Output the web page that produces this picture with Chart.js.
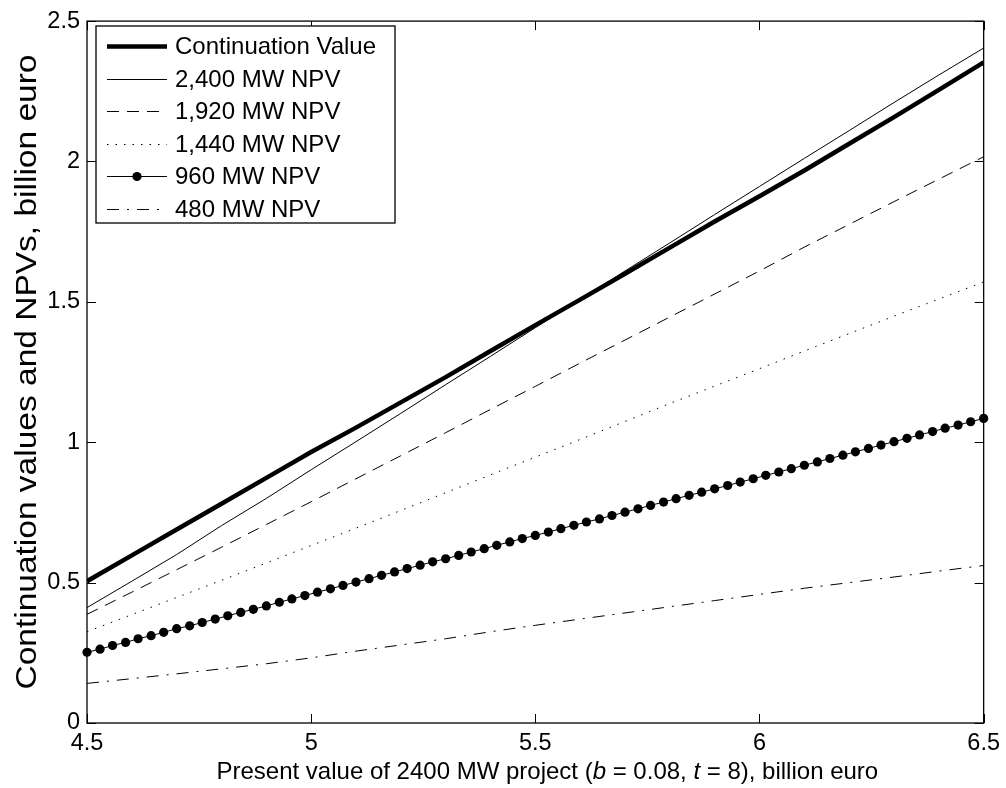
<!DOCTYPE html>
<html>
<head>
<meta charset="utf-8">
<script src="https://cdn.jsdelivr.net/npm/chart.js@4.4.1/dist/chart.umd.min.js"></script>
<style>
  html, body { margin: 0; padding: 0; background: #fff; }
  #wrap { width: 1006px; height: 788px; }
</style>
</head>
<body>
<div id="wrap"><canvas id="chart" width="1006" height="788"></canvas></div>
<script>
// x grid (present value, billion euro) for the plain lines
const pv = [4.5, 4.6, 4.7, 4.8, 4.9, 5.0, 5.1, 5.2, 5.3, 5.4, 5.5,
            5.6, 5.7, 5.8, 5.9, 6.0, 6.1, 6.2, 6.3, 6.4, 6.5];

const contValue = [0.505, 0.597, 0.689, 0.781, 0.873, 0.965, 1.052, 1.142, 1.232, 1.325, 1.417,
                   1.508, 1.600, 1.693, 1.786, 1.876, 1.968, 2.063, 2.158, 2.255, 2.353];
const npv2400 = [0.411, 0.505, 0.600, 0.703, 0.800, 0.902, 1.002, 1.103, 1.205, 1.306, 1.408,
                 1.508, 1.610, 1.710, 1.811, 1.911, 2.011, 2.110, 2.210, 2.308, 2.404];
const npv1920 = [0.387, 0.466, 0.546, 0.626, 0.707, 0.788, 0.870, 0.952, 1.034, 1.117, 1.199,
                 1.282, 1.364, 1.446, 1.528, 1.610, 1.695, 1.776, 1.857, 1.937, 2.017];
const npv1440 = [0.325, 0.386, 0.447, 0.508, 0.570, 0.632, 0.694, 0.757, 0.820, 0.884, 0.947,
                 1.010, 1.074, 1.138, 1.200, 1.262, 1.325, 1.387, 1.449, 1.510, 1.571];
const npv480 = [0.141, 0.158, 0.175, 0.193, 0.211, 0.232, 0.256, 0.278, 0.300, 0.325, 0.348,
                0.370, 0.392, 0.414, 0.436, 0.458, 0.480, 0.500, 0.520, 0.541, 0.561];

// the 960 MW curve has a marker on every point
const pv960 = [4.500, 4.529, 4.557, 4.586, 4.614, 4.643, 4.671, 4.700, 4.729, 4.757,
               4.786, 4.814, 4.843, 4.871, 4.900, 4.929, 4.957, 4.986, 5.014, 5.043,
               5.071, 5.100, 5.129, 5.157, 5.186, 5.214, 5.243, 5.271, 5.300, 5.329,
               5.357, 5.386, 5.414, 5.443, 5.471, 5.500, 5.529, 5.557, 5.586, 5.614,
               5.643, 5.671, 5.700, 5.729, 5.757, 5.786, 5.814, 5.843, 5.871, 5.900,
               5.929, 5.957, 5.986, 6.014, 6.043, 6.071, 6.100, 6.129, 6.157, 6.186,
               6.214, 6.243, 6.271, 6.300, 6.329, 6.357, 6.386, 6.414, 6.443, 6.471, 6.500];
const npv960 = [0.252, 0.263, 0.276, 0.287, 0.300, 0.311, 0.323, 0.336, 0.346, 0.358,
                0.370, 0.382, 0.394, 0.405, 0.417, 0.430, 0.442, 0.454, 0.466, 0.478,
                0.490, 0.502, 0.514, 0.526, 0.538, 0.550, 0.562, 0.574, 0.585, 0.597,
                0.609, 0.621, 0.633, 0.645, 0.657, 0.668, 0.680, 0.692, 0.704, 0.716,
                0.727, 0.739, 0.751, 0.763, 0.775, 0.787, 0.799, 0.811, 0.822, 0.834,
                0.846, 0.858, 0.870, 0.882, 0.894, 0.906, 0.918, 0.930, 0.942, 0.954,
                0.966, 0.978, 0.990, 1.002, 1.014, 1.026, 1.038, 1.050, 1.061, 1.073, 1.085];

const seriesNames = ["Continuation Value", "2,400 MW NPV", "1,920 MW NPV",
                     "1,440 MW NPV", "960 MW NPV", "480 MW NPV"];

const xTicks = [4.5, 5, 5.5, 6, 6.5];
const yTicks = [0, 0.5, 1, 1.5, 2, 2.5];

const yTitleText = "Continuation values and NPVs, billion euro";

const FONT = "'Liberation Sans', Arial, Helvetica, sans-serif";
Chart.defaults.font.family = FONT;
Chart.defaults.color = "#000";

const pts = (xs, ys) => xs.map((x, i) => ({ x: x, y: ys[i] }));

// box round the plot with inward ticks on all four sides
const frame = {
  id: "frame",
  afterDraw(chart) {
    const { ctx, chartArea: a, scales } = chart;
    ctx.save();
    ctx.strokeStyle = "#000";
    ctx.lineWidth = 1.3;
    ctx.strokeRect(a.left, a.top, a.right - a.left, a.bottom - a.top);
    ctx.lineWidth = 1;
    ctx.beginPath();
    xTicks.forEach(v => {
      const px = Math.round(scales.x.getPixelForValue(v)) + 0.5;
      ctx.moveTo(px, a.bottom); ctx.lineTo(px, a.bottom - 9);
      ctx.moveTo(px, a.top); ctx.lineTo(px, a.top + 9);
    });
    yTicks.forEach(v => {
      const py = Math.round(scales.y.getPixelForValue(v)) + 0.5;
      ctx.moveTo(a.left, py); ctx.lineTo(a.left + 9, py);
      ctx.moveTo(a.right, py); ctx.lineTo(a.right - 9, py);
    });
    ctx.stroke();
    ctx.restore();
  }
};

// legend box in the upper left corner, styles taken from the datasets
const boxLegend = {
  id: "boxLegend",
  afterDraw(chart) {
    const ctx = chart.ctx;
    const left = 96, top = 26, w = 299, h = 197;
    ctx.save();
    ctx.fillStyle = "#fff";
    ctx.fillRect(left, top, w, h);
    ctx.strokeStyle = "#000";
    ctx.lineWidth = 1.3;
    ctx.strokeRect(left, top, w, h);
    ctx.font = "24px " + FONT;
    ctx.textBaseline = "middle";
    chart.data.datasets.forEach((ds, i) => {
      const y = Math.round(46 + i * 32.6) + 0.5;
      ctx.strokeStyle = ds.borderColor;
      ctx.lineWidth = ds.borderWidth;
      ctx.setLineDash(ds.borderDash || []);
      ctx.beginPath();
      ctx.moveTo(107, y); ctx.lineTo(167, y);
      ctx.stroke();
      ctx.setLineDash([]);
      if (ds.pointRadius > 0) {
        ctx.fillStyle = ds.pointBackgroundColor;
        ctx.beginPath();
        ctx.arc(137, y, ds.pointRadius, 0, Math.PI * 2);
        ctx.fill();
      }
      ctx.fillStyle = "#000";
      ctx.fillText(ds.label, 175, y + 1);
    });
    ctx.restore();
  }
};

// axis titles: x title has italic b and t
const axisTitles = {
  id: "axisTitles",
  afterDraw(chart) {
    const ctx = chart.ctx, a = chart.chartArea;
    const parts = [
      ["Present value of 2400 MW project (", false],
      ["b", true],
      [" = 0.08, ", false],
      ["t", true],
      [" = 8), billion euro", false]
    ];
    ctx.save();
    ctx.fillStyle = "#000";
    ctx.textBaseline = "middle";
    let total = 0;
    parts.forEach(p => {
      ctx.font = (p[1] ? "italic " : "") + "24px " + FONT;
      total += ctx.measureText(p[0]).width;
    });
    let x = (a.left + a.right) / 2 + 12 - total / 2;
    parts.forEach(p => {
      ctx.font = (p[1] ? "italic " : "") + "24px " + FONT;
      ctx.fillText(p[0], x, 772);
      x += ctx.measureText(p[0]).width;
    });

    ctx.font = "30px " + FONT;
    const w = ctx.measureText(yTitleText).width;
    ctx.translate(28, (a.top + a.bottom) / 2);
    ctx.rotate(-Math.PI / 2);
    ctx.scale(635 / w, 1);
    ctx.textAlign = "center";
    ctx.fillText(yTitleText, 0, 0);
    ctx.restore();
  }
};

new Chart(document.getElementById("chart"), {
  type: "line",
  data: {
    datasets: [
      { label: seriesNames[0], data: pts(pv, contValue), borderColor: "#000", borderWidth: 4.5, pointRadius: 0 },
      { label: seriesNames[1], data: pts(pv, npv2400), borderColor: "#000", borderWidth: 1, pointRadius: 0 },
      { label: seriesNames[2], data: pts(pv, npv1920), borderColor: "#000", borderWidth: 1, borderDash: [12, 8], pointRadius: 0 },
      { label: seriesNames[3], data: pts(pv, npv1440), borderColor: "#000", borderWidth: 1, borderDash: [1.5, 7], pointRadius: 0 },
      { label: seriesNames[4], data: pts(pv960, npv960), borderColor: "#000", borderWidth: 1, pointRadius: 4.6,
        pointBackgroundColor: "#000", pointBorderWidth: 0, clip: 8 },
      { label: seriesNames[5], data: pts(pv, npv480), borderColor: "#000", borderWidth: 1, borderDash: [12, 8, 2, 8], pointRadius: 0 }
    ]
  },
  options: {
    responsive: false,
    animation: false,
    events: [],
    layout: { padding: { top: 15, right: 20, left: 0, bottom: 0 } },
    elements: { line: { tension: 0, borderCapStyle: "butt" } },
    plugins: { legend: { display: false }, tooltip: { enabled: false } },
    scales: {
      x: {
        type: "linear",
        min: 4.5, max: 6.5,
        afterBuildTicks: s => { s.ticks = xTicks.map(v => ({ value: v })); },
        afterFit: s => { s.height = 65; },
        grid: { display: false, drawTicks: false },
        border: { display: false },
        ticks: { font: { size: 23.5 }, padding: 6, maxRotation: 0, color: "#000", callback: v => String(v) }
      },
      y: {
        type: "linear",
        min: 0, max: 2.5,
        afterBuildTicks: s => { s.ticks = yTicks.map(v => ({ value: v })); },
        afterFit: s => { s.width = 87; },
        grid: { display: false, drawTicks: false },
        border: { display: false },
        ticks: { font: { size: 23.5 }, padding: 7, color: "#000", callback: v => String(v) }
      }
    }
  },
  plugins: [frame, boxLegend, axisTitles]
});
</script>
</body>
</html>
